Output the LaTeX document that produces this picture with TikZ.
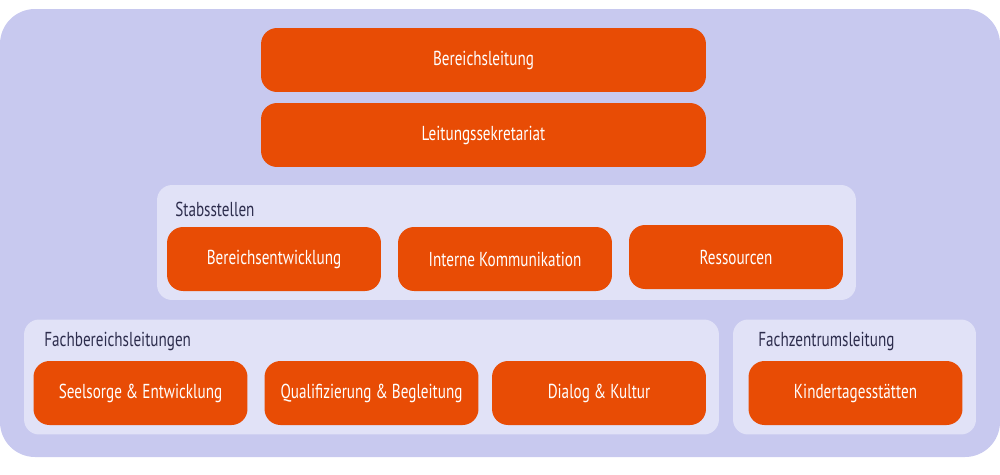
\documentclass[tikz,border=0pt]{standalone}
\usepackage{fontspec}
\setmainfont[FakeStretch=0.75]{PT Sans}
\definecolor{outerbg}{HTML}{C8C9EF}
\definecolor{panelbg}{HTML}{E1E2F7}
\definecolor{unitorange}{HTML}{E84C05}
\definecolor{labelink}{HTML}{2D2D4D}
\tikzset{
  unit/.style={fill=unitorange,rounded corners=0.32cm,text=white,
    minimum width=4.28cm,minimum height=1.28cm,inner sep=0pt,font=\fontsize{11.5}{13}\selectfont},
  wideunit/.style={unit,minimum width=8.9cm},
  panel/.style={fill=panelbg,rounded corners=0.3cm,minimum height=2.3cm,inner sep=0pt},
  paneltitle/.style={anchor=west,text=labelink,inner sep=0pt,font=\fontsize{11.5}{13}\selectfont}
}
\begin{document}
\begin{tikzpicture}[x=0.02cm,y=-0.02cm]
  \useasboundingbox (0,0) rectangle (1000,474);
  \fill[outerbg,rounded corners=0.7cm] (0,9) rectangle (1000,457);
  % panels
  \node[panel,minimum width=13.98cm] (stab) at (506.5,242.5) {};
  \node[panel,minimum width=13.9cm] (fach) at (371.5,377) {};
  \node[panel,minimum width=4.86cm] (zentrum) at (854.5,377) {};
  \node[paneltitle] (stabtitle) at (175,209) {Stabsstellen};
  \node[paneltitle] (fachtitle) at (44,341) {Fachbereichsleitungen};
  \node[paneltitle] (zentrumtitle) at (758,341) {Fachzentrumsleitung};
  % units
  \node[wideunit] (leitung) at (483.5,60) {Bereichsleitung};
  \node[wideunit] (sekretariat) at (483.5,135) {Leitungssekretariat};
  \foreach \name/\x/\y/\txt in {
      entw/274/259/Bereichsentwicklung,
      komm/505/259/Interne Kommunikation,
      ress/736/257/Ressourcen,
      seel/140.5/393/Seelsorge \& Entwicklung,
      qual/371.5/393/Qualifizierung \& Begleitung,
      dial/599/393/Dialog \& Kultur,
      kita/855.5/393/Kindertagesstätten}
    \node[unit] (\name) at (\x,\y) {\txt};
\end{tikzpicture}
\end{document}
